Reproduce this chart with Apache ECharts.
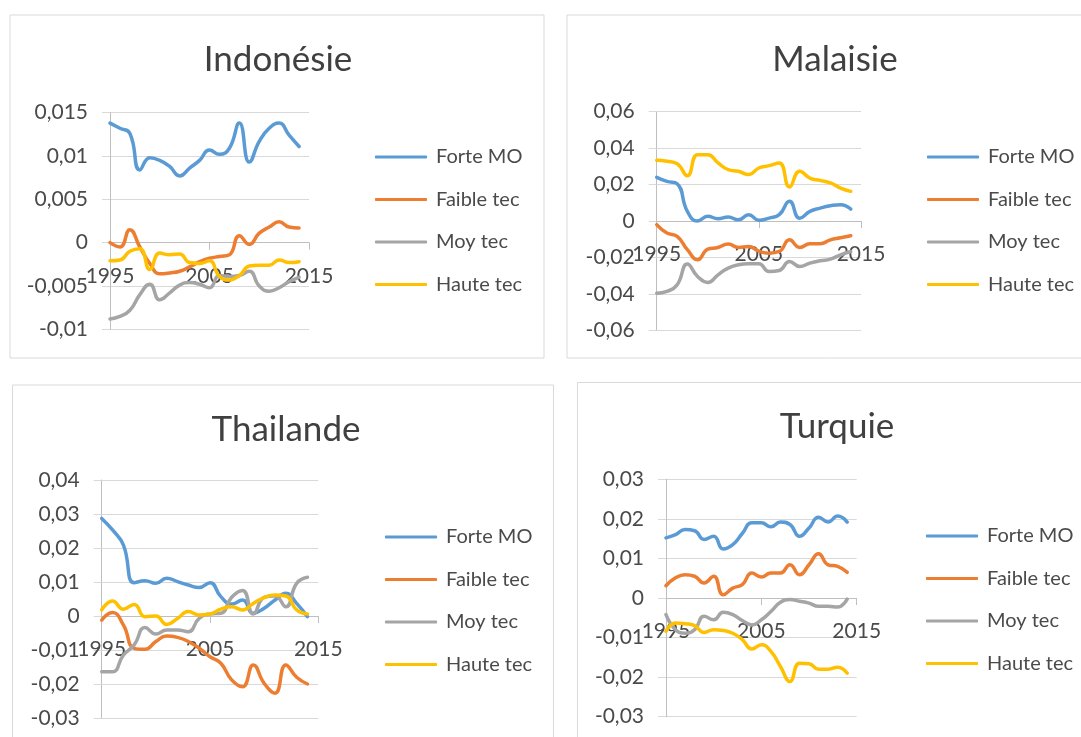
<!DOCTYPE html>
<html lang="fr">
<head>
<meta charset="UTF-8">
<title>Indonésie, Malaisie, Thailande, Turquie</title>
<style>
  html, body { margin: 0; padding: 0; background: #fff; }
  #chart { width: 1081px; height: 737px; }
</style>
</head>
<body>
<div id="chart"></div>
<script src="https://cdn.jsdelivr.net/npm/echarts@6/dist/echarts.min.js"></script>
<script>
var years = ['1995','1996','1997','1998','1999','2000','2001','2002','2003','2004',
  '2005','2006','2007','2008','2009','2010','2011','2012','2013','2014','2015'];
var seriesNames = ['Forte MO', 'Faible tec', 'Moy tec', 'Haute tec'];
var titles = ['Indonésie', 'Malaisie', 'Thailande', 'Turquie'];

// Indonésie
var indoForte  = [0.0138,0.0132,0.0126,0.0084,0.0098,0.0095,0.0088,0.0077,0.0086,0.0095,0.0107,0.0102,0.0109,0.0138,0.0093,0.0117,0.0132,0.0138,0.0124,0.0111];
var indoFaible = [0.0000,-0.0005,0.0015,-0.0005,-0.0024,-0.0036,-0.0035,-0.0033,-0.0028,-0.0022,-0.0018,-0.0016,-0.0014,0.0008,-0.0002,0.0011,0.0018,0.0024,0.0018,0.0017];
var indoMoy    = [-0.0088,-0.0085,-0.0078,-0.0060,-0.0048,-0.0066,-0.0058,-0.0049,-0.0046,-0.0048,-0.0052,-0.0038,-0.0039,-0.0038,-0.0033,-0.0050,-0.0056,-0.0052,-0.0045,-0.0040];
var indoHaute  = [-0.0021,-0.0020,-0.0010,-0.0007,-0.0031,-0.0012,-0.0014,-0.0013,-0.0023,-0.0024,-0.0021,-0.0039,-0.0043,-0.0038,-0.0027,-0.0026,-0.0026,-0.0020,-0.0023,-0.0022];

// Malaisie
var malForte  = [0.0240,0.0218,0.0205,0.0053,0.0000,0.0026,0.0013,0.0022,0.0007,0.0035,0.0004,0.0016,0.0035,0.0108,0.0016,0.0053,0.0071,0.0084,0.0090,0.0066];
var malFaible = [-0.0020,-0.0066,-0.0084,-0.0157,-0.0212,-0.0154,-0.0145,-0.0126,-0.0145,-0.0140,-0.0165,-0.0176,-0.0167,-0.0103,-0.0145,-0.0125,-0.0125,-0.0103,-0.0092,-0.0081];
var malMoy    = [-0.0396,-0.0386,-0.0350,-0.0236,-0.0304,-0.0337,-0.0295,-0.0258,-0.0240,-0.0234,-0.0234,-0.0277,-0.0271,-0.0222,-0.0249,-0.0231,-0.0218,-0.0209,-0.0185,-0.0167];
var malHaute  = [0.0333,0.0328,0.0315,0.0249,0.0364,0.0364,0.0319,0.0282,0.0273,0.0255,0.0291,0.0304,0.0319,0.0187,0.0273,0.0236,0.0223,0.0209,0.0181,0.0163];

// Thailande
var thaForte  = [0.0287,0.0253,0.0209,0.0098,0.0104,0.0096,0.0111,0.0101,0.0091,0.0084,0.0098,0.0057,0.0035,0.0047,0.0008,0.0023,0.0047,0.0067,0.0037,-0.0002];
var thaFaible = [-0.0012,0.0010,-0.0026,-0.0095,-0.0098,-0.0075,-0.0059,-0.0063,-0.0075,-0.0095,-0.0120,-0.0139,-0.0188,-0.0208,-0.0144,-0.0198,-0.0227,-0.0144,-0.0180,-0.0200];
var thaMoy    = [-0.0164,-0.0164,-0.0115,-0.0085,-0.0034,-0.0053,-0.0041,-0.0041,-0.0046,-0.0007,0.0006,0.0008,0.0055,0.0075,0.0006,0.0055,0.0059,0.0027,0.0096,0.0114];
var thaHaute  = [0.0018,0.0044,0.0020,0.0034,-0.0002,0.0000,-0.0025,-0.0007,0.0013,0.0003,0.0006,0.0020,0.0027,0.0018,0.0037,0.0054,0.0062,0.0059,0.0018,0.0006];

// Turquie
var turForte  = [0.0152,0.0160,0.0173,0.0170,0.0148,0.0156,0.0124,0.0135,0.0163,0.0190,0.0190,0.0180,0.0192,0.0186,0.0156,0.0177,0.0204,0.0192,0.0207,0.0192];
var turFaible = [0.0031,0.0051,0.0059,0.0055,0.0038,0.0055,0.0008,0.0025,0.0034,0.0063,0.0053,0.0063,0.0063,0.0084,0.0059,0.0084,0.0112,0.0084,0.0080,0.0065];
var turMoy    = [-0.0042,-0.0080,-0.0089,-0.0080,-0.0046,-0.0055,-0.0036,-0.0042,-0.0057,-0.0068,-0.0055,-0.0034,-0.0011,-0.0004,-0.0008,-0.0013,-0.0021,-0.0021,-0.0023,-0.0003];
var turHaute  = [-0.0084,-0.0063,-0.0065,-0.0070,-0.0087,-0.0080,-0.0082,-0.0089,-0.0105,-0.0129,-0.0118,-0.0135,-0.0173,-0.0211,-0.0165,-0.0166,-0.0180,-0.0180,-0.0175,-0.0190];

var yMin = [-0.01, -0.06, -0.03, -0.03];
var yMax = [0.015, 0.06, 0.04, 0.03];
var yStep = [0.005, 0.02, 0.01, 0.01];

var panelData = [
  [indoForte, indoFaible, indoMoy, indoHaute],
  [malForte, malFaible, malMoy, malHaute],
  [thaForte, thaFaible, thaMoy, thaHaute],
  [turForte, turFaible, turMoy, turHaute]
];

var colors = ['#5B9BD5', '#ED7D31', '#A5A5A5', '#FFC000'];
var font = 'Lato, "Open Sans", sans-serif';
var textColor = '#4a4a4a';

// panel layout (px)
var panels = [
  { box: [10, 15, 534, 343],  grid: [110, 112.7, 199, 216.6], titleX: 278, titleY: 42, legX: 375, legY: 147 },
  { box: [567, 15, 540, 343], grid: [656.7, 111.7, 204.3, 218.7], titleX: 835, titleY: 42, legX: 927, legY: 147 },
  { box: [12.5, 385, 541, 400], grid: [101.7, 480, 216.6, 238], titleX: 286, titleY: 412, legX: 385, legY: 527 },
  { box: [577.5, 382.5, 530, 400], grid: [666, 479.3, 190.7, 237.4], titleX: 837, titleY: 409, legX: 926, legY: 526 }
];

function fmt(v) {
  return String(+v.toFixed(4)).replace('.', ',');
}

var option = {
  backgroundColor: '#fff',
  animation: false,
  color: colors,
  title: [], legend: [], grid: [], xAxis: [], yAxis: [], series: [],
  graphic: []
};

panels.forEach(function (p, i) {
  // the category axis crosses the value axis at 0
  var zeroShift = p.grid[3] * (0 - yMin[i]) / (yMax[i] - yMin[i]);
  option.graphic.push({
    type: 'rect',
    shape: { x: p.box[0], y: p.box[1], width: p.box[2], height: p.box[3] },
    style: { fill: 'none', stroke: '#D9D9D9', lineWidth: 1 },
    silent: true
  });
  option.title.push({
    text: titles[i],
    left: p.titleX,
    top: p.titleY,
    textAlign: 'center',
    padding: 0,
    textStyle: { fontFamily: font, fontSize: 35, fontWeight: 'normal', color: '#404040' }
  });
  option.legend.push({
    data: seriesNames,
    orient: 'vertical',
    left: p.legX,
    top: p.legY,
    padding: 0,
    itemGap: 22.5,
    itemWidth: 52,
    itemHeight: 3,
    icon: 'roundRect',
    textStyle: { fontFamily: font, fontSize: 20, color: textColor, lineHeight: 20, padding: [0, 0, 0, 4] }
  });
  option.grid.push({ left: p.grid[0], top: p.grid[1], width: p.grid[2], height: p.grid[3], containLabel: false });
  option.xAxis.push({
    type: 'category',
    gridIndex: i,
    position: 'bottom',
    offset: -zeroShift,
    data: years,
    boundaryGap: false,
    axisLine: { onZero: false, lineStyle: { color: '#BFBFBF', width: 1 } },
    axisTick: { show: true, interval: 9, length: 7, lineStyle: { color: '#BFBFBF' } },
    axisLabel: { interval: 9, margin: 23, fontFamily: font, fontSize: 21, color: textColor },
    splitLine: { show: false }
  });
  option.yAxis.push({
    type: 'value',
    gridIndex: i,
    min: yMin[i],
    max: yMax[i],
    interval: yStep[i],
    axisLine: { show: true, lineStyle: { color: '#BFBFBF', width: 1 } },
    axisTick: { show: true, length: 8, lineStyle: { color: '#D9D9D9' } },
    axisLabel: { margin: 22, fontFamily: font, fontSize: 21, color: textColor, formatter: fmt },
    splitLine: { lineStyle: { color: '#D9D9D9', width: 1 } }
  });
  panelData[i].forEach(function (vals, k) {
    option.series.push({
      name: seriesNames[k],
      type: 'line',
      xAxisIndex: i,
      yAxisIndex: i,
      data: vals,
      smooth: true,
      symbol: 'none',
      lineStyle: { width: 3.5, color: colors[k], cap: 'round' },
      itemStyle: { color: colors[k] }
    });
  });
});

var myChart = echarts.init(document.getElementById('chart'));
myChart.setOption(option);
</script>
</body>
</html>
